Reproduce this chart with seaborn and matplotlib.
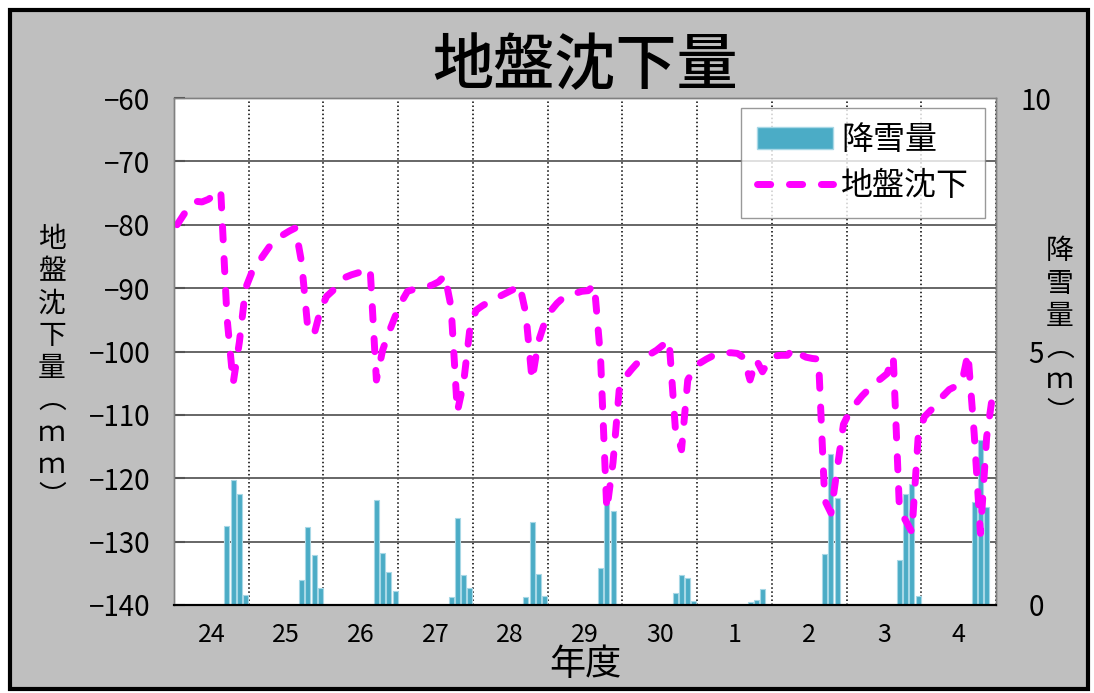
import matplotlib
matplotlib.use("Agg")
import matplotlib.pyplot as plt
import numpy as np
import pandas as pd
import seaborn as sns
from matplotlib.lines import Line2D
from matplotlib.patches import Patch, Rectangle

sns.set_style("white")
plt.rcParams["font.family"] = ["Noto Sans CJK JP", "DejaVu Sans"]
plt.rcParams["text.color"] = "black"
plt.rcParams["axes.labelcolor"] = "black"
plt.rcParams["xtick.color"] = "black"
plt.rcParams["ytick.color"] = "black"

# fiscal years (Apr - Mar)
years = ["24", "25", "26", "27", "28", "29", "30", "1", "2", "3", "4"]

# snowfall (m) in Dec, Jan, Feb, Mar of each fiscal year
snow_dec = [1.55, 0.50, 2.08, 0.16, 0.16, 0.73, 0.23, 0.06, 1.00, 0.88, 2.03]
snow_jan = [2.46, 1.53, 1.02, 1.72, 1.64, 2.30, 0.60, 0.10, 2.97, 2.19, 3.26]
snow_feb = [2.19, 0.98, 0.65, 0.60, 0.61, 1.86, 0.53, 0.31, 2.12, 2.39, 1.94]
snow_mar = [0.20, 0.33, 0.28, 0.33, 0.18, 0.00, 0.07, 0.00, 0.00, 0.18, 0.00]

# monthly ground subsidence (mm), Apr..Mar for each fiscal year
subsidence = [
    -80.0, -78.5, -77.0, -76.3, -76.4, -76.0, -75.3, -74.5, -94.5, -105.0, -98.5, -90.0,   # 24
    -87.5, -86.0, -84.6, -83.2, -82.3, -81.6, -81.0, -80.5, -86.0, -96.5, -97.3, -93.5,    # 25
    -91.3, -90.4, -89.3, -88.3, -87.9, -87.6, -87.3, -86.9, -104.5, -99.8, -97.0, -94.5,   # 26
    -92.2, -90.5, -90.2, -90.0, -89.8, -89.5, -89.0, -88.0, -93.0, -109.5, -105.0, -96.5,  # 27
    -93.5, -92.8, -92.2, -91.7, -91.2, -90.7, -90.2, -89.5, -94.0, -104.5, -98.5, -95.5,   # 28
    -93.6, -92.4, -91.5, -91.1, -90.8, -90.5, -90.4, -89.5, -101.0, -125.0, -117.5, -106.0,  # 29
    -104.0, -102.8, -101.7, -101.0, -100.4, -99.8, -99.0, -98.2, -112.0, -115.5, -104.5, -102.7,  # 30
    -101.8, -101.2, -100.7, -100.3, -100.2, -100.2, -100.3, -101.0, -104.5, -101.3, -103.2, -101.5,  # 1
    -100.7, -100.6, -100.6, -99.5, -100.4, -100.9, -101.1, -101.2, -123.5, -125.5, -118.5, -111.5,  # 2
    -109.5, -108.2, -107.0, -106.0, -105.0, -104.3, -103.5, -100.8, -125.0, -126.7, -128.5, -113.5,  # 3
    -110.3, -109.3, -108.4, -107.0, -106.0, -105.5, -105.0, -100.3, -113.0, -128.7, -113.5, -106.5,  # 4
]

bar_color = "#4bacc6"
line_color = "#ff00ff"
dash = (0, (1.9, 2.7))

rows = []
for i, yr in enumerate(years):
    for slot, vals in zip(range(8, 12), [snow_dec, snow_jan, snow_feb, snow_mar]):
        if vals[i] > 0:
            rows.append({"month": 12 * i + slot, "snow": vals[i]})
snow_df = pd.DataFrame(rows)
line_df = pd.DataFrame({"month": np.arange(len(subsidence)), "subsidence": subsidence})

fig = plt.figure(figsize=(10.94, 6.93), dpi=100, facecolor="white")
fig.patches.append(Rectangle((10 / 1094, 4 / 693), 1078 / 1094, 679 / 693,
                             transform=fig.transFigure, facecolor="#bfbfbf",
                             edgecolor="black", linewidth=3, zorder=-10))

ax_snow = fig.add_axes([174 / 1094, 88 / 693, 822 / 1094, 507 / 693])
ax_snow.set_facecolor("white")
ax_line = ax_snow.twinx()
ax_line.set_zorder(ax_snow.get_zorder() + 1)
ax_line.patch.set_visible(False)

sns.barplot(data=snow_df, x="month", y="snow", ax=ax_snow, native_scale=True,
            color=bar_color, saturation=1, errorbar=None, width=0.8,
            edgecolor="#a8d8e6", linewidth=0.8)
sns.lineplot(data=line_df, x="month", y="subsidence", ax=ax_line, color=line_color,
             linewidth=5, linestyle=dash, dash_capstyle="round",
             solid_joinstyle="round", estimator=None, sort=False)

n = len(subsidence)
ax_snow.set_xlim(-0.5, n - 0.5)
ax_snow.set_ylim(0, 10)
ax_line.set_ylim(-140, -60)

# year boundaries and labels
bounds = np.arange(-0.5, n, 12)
ax_snow.set_xticks(bounds)
ax_snow.set_xticklabels([])
ax_snow.set_xticks(np.arange(5.5, n, 12), minor=True)
ax_snow.set_xticklabels(years, minor=True, fontsize=18)
ax_snow.tick_params(axis="x", which="major", direction="out", length=8, width=1.2, color="black")
ax_snow.tick_params(axis="x", which="minor", length=0, pad=12)
ax_snow.grid(axis="x", which="major", linestyle=":", color="black", linewidth=1.1)

# right axis (snow)
ax_snow.yaxis.tick_right()
ax_snow.set_yticks([0, 5, 10])
ax_snow.set_yticks(np.arange(0, 10.01, 1.25), minor=True)
ax_snow.grid(axis="y", which="both", color="#5a5a5a", linewidth=1.3)
ax_snow.tick_params(axis="y", which="major", direction="in", length=0, labelsize=20, pad=29)
ax_snow.tick_params(axis="y", which="minor", length=0)
for lab in ax_snow.get_yticklabels():
    lab.set_horizontalalignment("center")

# left axis (subsidence)
ax_line.yaxis.tick_left()
ax_line.set_yticks(np.arange(-140, -59, 10))
ax_line.tick_params(axis="y", direction="in", length=8, width=1.5, color="#555555",
                    labelsize=20, pad=17)

for ax in (ax_snow, ax_line):
    ax.set_xlabel("")
    ax.set_ylabel("")
    for side in ("left", "right", "top"):
        ax.spines[side].set_color("#808080")
        ax.spines[side].set_linewidth(1)
    ax.spines["bottom"].set_color("black")
    ax.spines["bottom"].set_linewidth(1.5)

ax_snow.set_xlabel("年度", fontsize=26)
ax_snow.xaxis.set_label_coords(0.5, -0.083)

ax_line.set_title("地盤沈下量", fontsize=44, fontweight="medium", pad=2)

fig.text(52 / 1094, 1 - 368 / 693, "\n".join("地盤沈下量︵ｍｍ︶"), ha="center", va="center",
         fontsize=20, linespacing=1.1)
fig.text(1060 / 1094, 1 - 332 / 693, "\n".join("降雪量︵ｍ︶"), ha="center", va="center",
         fontsize=20, linespacing=1.1)

handles = [
    Patch(facecolor=bar_color, edgecolor="#a8d8e6"),
    Line2D([], [], color=line_color, linewidth=5, linestyle=dash, dash_capstyle="round"),
]
leg = ax_line.legend(handles, ["降雪量", "地盤沈下"], loc="upper right",
                     bbox_to_anchor=(0.987, 0.98), borderaxespad=0, fontsize=23,
                     frameon=True, fancybox=False, edgecolor="#808080",
                     handlelength=2.4, labelspacing=0.45, borderpad=0.5,
                     handletextpad=0.25)
leg.get_frame().set_linewidth(1)

fig.savefig("out.png", dpi=100)
